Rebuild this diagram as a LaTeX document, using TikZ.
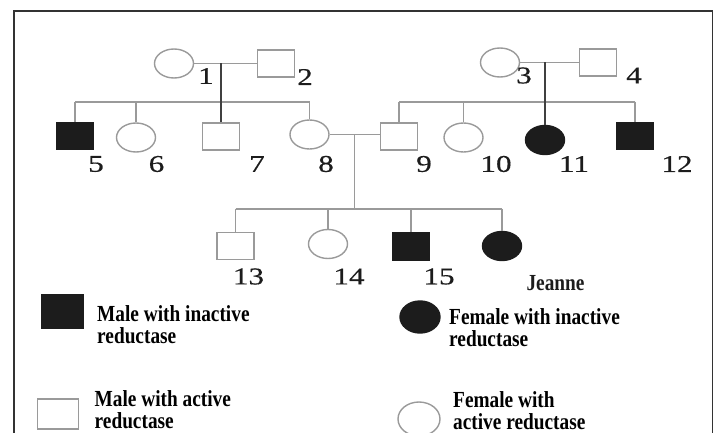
\documentclass[tikz,border=0pt]{standalone}
\usepackage{fontspec}
\setmainfont{Liberation Serif}
\newfontfamily\numfont[FakeStretch=1.3, FakeBold=0.5]{Liberation Serif}
\newfontfamily\keyfont[FakeStretch=0.84]{Liberation Serif}
\usetikzlibrary{shapes.geometric}
\definecolor{outl}{HTML}{9A9A9A}
\definecolor{ink}{HTML}{1C1C1C}
\tikzstyle{male}=[draw=outl, line width=1.4pt, minimum width=37pt, minimum height=27pt, inner sep=0pt]
\tikzstyle{female}=[ellipse, draw=outl, line width=1.4pt, minimum width=39pt, minimum height=29pt, inner sep=0pt]
\tikzstyle{affected}=[draw=ink, fill=ink]
\tikzstyle{link}=[draw=outl, line width=1.8pt]
\tikzstyle{descent}=[draw=black!75, line width=1.8pt]
\tikzstyle{num}=[inner sep=0pt, text=ink, font=\numfont\fontsize{24}{24}\selectfont]
\tikzstyle{legend}=[inner sep=0pt, anchor=west, align=left, font=\keyfont\bfseries\fontsize{23}{22}\selectfont]

\begin{document}
\begin{tikzpicture}[x=1pt, y=-1pt]
    \useasboundingbox (0,0) rectangle (718,433);
    \draw [line width=1.8pt, black!80] (14,450) -- (14,11) -- (712.5,11) -- (712.5,450);
    % generation I
    \node [female] (n1) at (174,63.5) {};
    \node [male] (n2) at (276,63.5) {};
    \node [female] (n3) at (500,62.5) {};
    \node [male] (n4) at (598,62.5) {};
    \coordinate (u12) at (221,63.5);
    \coordinate (u34) at (545,62.5);
    % generation II
    \node [male, affected] (n5) at (75,136) {};
    \node [female] (n6) at (136,137.5) {};
    \node [male] (n7) at (221,136.5) {};
    \node [female] (n8) at (309.5,134.5) {};
    \node [male] (n9) at (399,136.5) {};
    \node [female] (n10) at (463.5,137.5) {};
    \node [female, affected] (n11) at (545,140) {};
    \node [male, affected] (n12) at (635,136) {};
    \coordinate (s12) at (221,101.7);
    \coordinate (s34) at (545,101.7);
    \coordinate (u89) at (354.5,134.5);
    % generation III
    \node [male] (n13) at (235.5,246) {};
    \node [female] (n14) at (328,244) {};
    \node [male, affected] (n15) at (411,246.5) {};
    \node [female, affected] (jeanne) at (502,246) {};
    \coordinate (s89) at (354.5,208.8);
    % couples and sibships
    \draw [link] (n1) -- (n2);
    \draw [link] (n3) -- (n4);
    \draw [link] (n8.east) -- (n8.east -| n9.west);
    \draw [link] (n5 |- s12) -- (n8 |- s12);
    \draw [link] (n5 |- s12) -- (n5);
    \draw [link] (n6 |- s12) -- (n6);
    \draw [link] (n8 |- s12) -- (n8);
    \draw [link] (n9 |- s34) -- (n12 |- s34);
    \draw [link] (n9 |- s34) -- (n9);
    \draw [link] (n10 |- s34) -- (n10);
    \draw [link] (n12 |- s34) -- (n12);
    \draw [descent] (u12) -- (n7);
    \draw [descent] (u34) -- (n11);
    \draw [link] (u89) -- (s89);
    \draw [link] (n13 |- s89) -- (jeanne |- s89);
    \draw [link] (n13 |- s89) -- (n13);
    \draw [link] (n14 |- s89) -- (n14);
    \draw [link] (n15 |- s89) -- (n15);
    \draw [link] (jeanne |- s89) -- (jeanne);
    % numbers
    \node [num] (l1) at (206,76) {1};
    \node [num] (l2) at (305,77) {2};
    \node [num] (l3) at (524,75.5) {3};
    \node [num] (l4) at (634,75.5) {4};
    \node [num] (l5) at (96,164) {5};
    \node [num] (l6) at (156.5,164) {6};
    \node [num] (l7) at (257,164) {7};
    \node [num] (l8) at (326,164) {8};
    \node [num] (l9) at (424,164) {9};
    \node [num] (l10) at (496,164) {10};
    \node [num] (l11) at (574,164) {11};
    \node [num] (l12) at (677,164) {12};
    \node [num] (l13) at (248.5,276.5) {13};
    \node [num] (l14) at (349,276.5) {14};
    \node [num] (l15) at (439,276.5) {15};
    \node [num, font=\keyfont\bfseries\fontsize{23}{22}\selectfont] (ljeanne) at (555.5,283) {Jeanne};
    % key
    \node [male, affected, minimum width=41pt, minimum height=33pt] (kmi) at (62.5,311.5) {};
    \node [legend] (tmi) at (97,324.8) {Male with inactive\\reductase};
    \node [female, affected, minimum width=40pt, minimum height=32pt] (kfi) at (420,317) {};
    \node [legend] (tfi) at (449,327.5) {Female with inactive\\reductase};
    \node [male, minimum width=41pt, minimum height=30pt] (kma) at (58,414) {};
    \node [legend] (tma) at (94.5,409.5) {Male with active\\reductase};
    \node [female, minimum width=42pt, minimum height=34pt] (kfa) at (419,419) {};
    \node [legend] (tfa) at (453,410.5) {Female with\\active reductase};
\end{tikzpicture}
\end{document}
